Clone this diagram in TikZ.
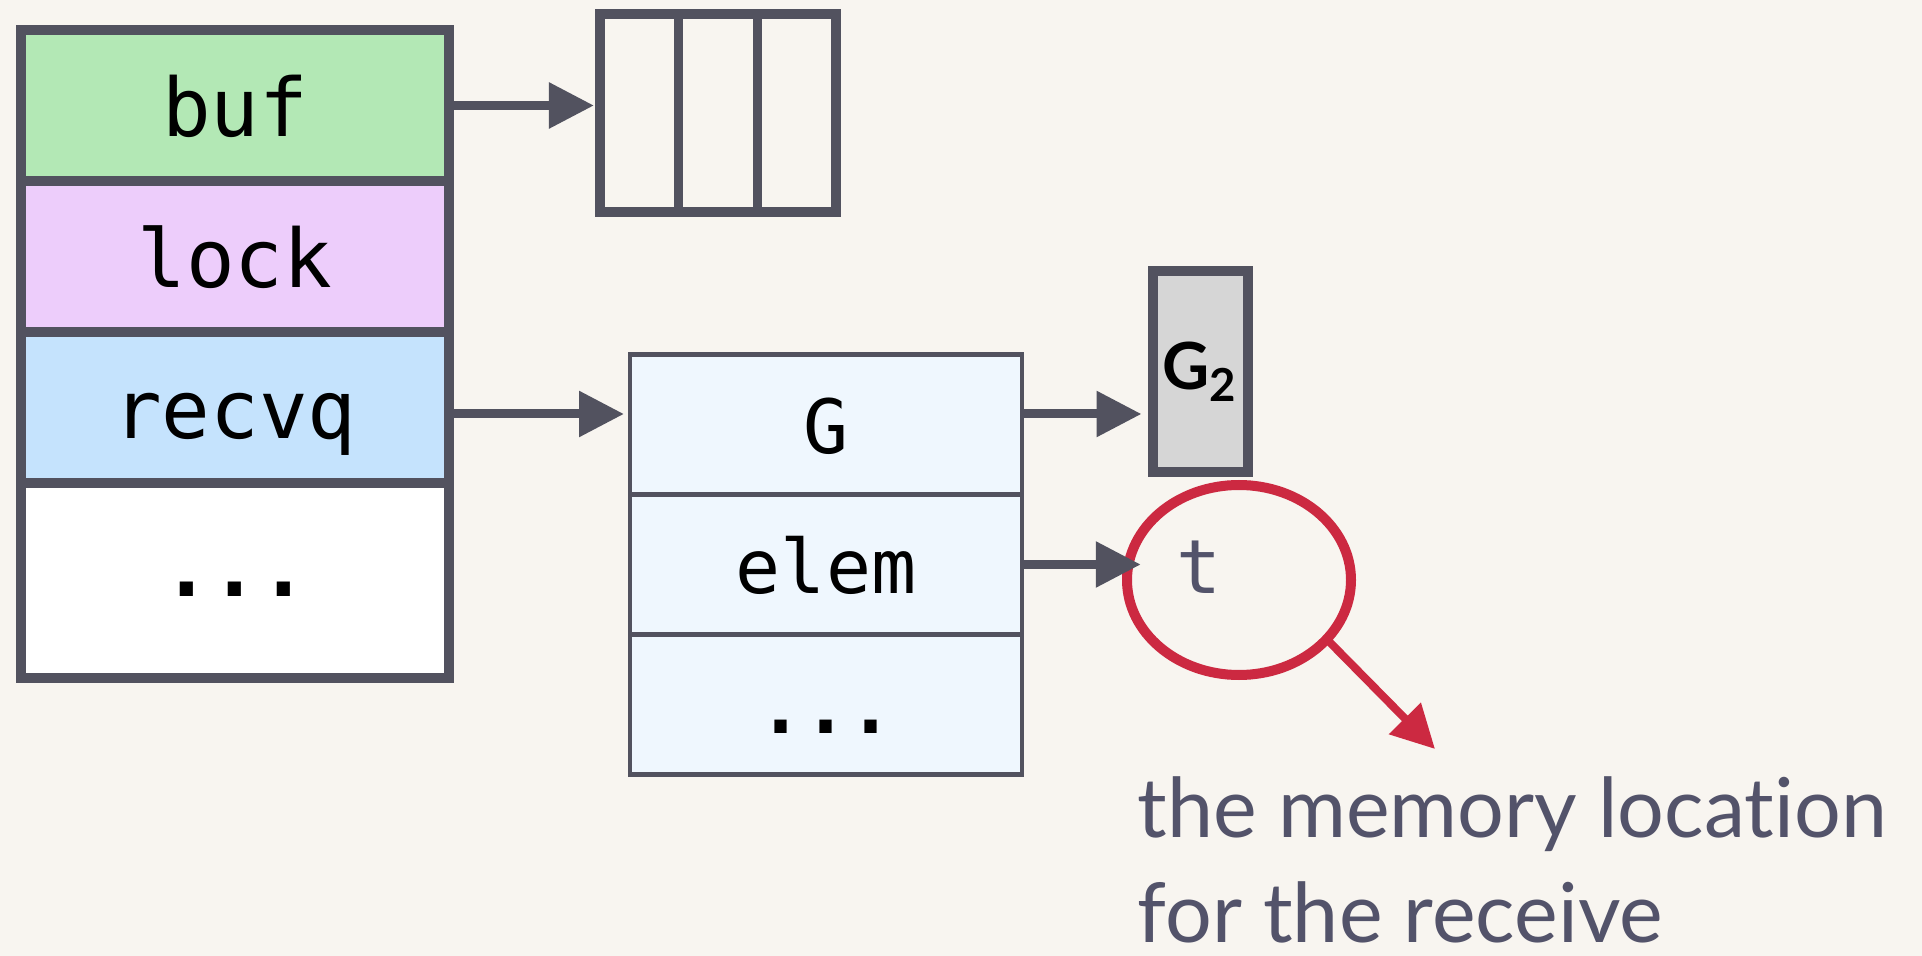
\documentclass[tikz,border=0pt]{standalone}
\usepackage{fontspec}
\setmainfont{Lato}[Ligatures=NoCommon]
\setmonofont{DejaVu Sans Mono}
\usetikzlibrary{arrows.meta,positioning,shapes.geometric}
\definecolor{FondoCrema}{HTML}{F8F5F0}
\definecolor{TrazoGris}{HTML}{52525F}
\definecolor{CampoVerde}{HTML}{B3E8B5}
\definecolor{CampoLila}{HTML}{EDCDFB}
\definecolor{CampoAzul}{HTML}{C5E3FD}
\definecolor{SudogAzul}{HTML}{EFF7FE}
\definecolor{GorGris}{HTML}{D6D6D6}
\definecolor{MarcaRoja}{HTML}{CC2941}
\definecolor{NotaGris}{HTML}{53536A}

\begin{document}
\begin{tikzpicture}[
  node distance=0pt,
  campo/.style={rectangle,draw=TrazoGris,line width=0.95mm,outer sep=0pt,
    minimum width=42.8mm,minimum height=15.1mm,text height=6.2mm,text depth=0pt,
    font=\fontsize{23}{28}\selectfont\ttfamily},
  celda/.style={rectangle,draw=TrazoGris,line width=0.95mm,outer sep=0pt,
    minimum width=7.87mm,minimum height=19.8mm},
  sudog/.style={rectangle,draw=TrazoGris,line width=0.45mm,fill=SudogAzul,outer sep=0pt,
    minimum width=39.2mm,minimum height=14mm,text height=5.8mm,text depth=0pt,
    font=\fontsize{21.3}{26}\selectfont\ttfamily},
  flecha/.style={-{Triangle[length=4.5mm,width=4.4mm]},line width=0.9mm,draw=TrazoGris,
    shorten >=0.6mm},
  marca/.style={-{Triangle[length=4.3mm,width=4.3mm]},line width=0.8mm,draw=MarcaRoja}
]
\path[use as bounding box,fill=FondoCrema] (0,0) rectangle (19.22,-9.56);
% canal
\node[campo,fill=CampoVerde] (buf) at (2.35,-1.055) {buf};
\node[campo,fill=CampoLila,below=of buf] (lock) {lock};
\node[campo,fill=CampoAzul,below=of lock] (recvq) {recvq};
\node[campo,fill=white,below=of recvq,minimum height=19.5mm,text height=3.2mm,
  font=\fontsize{23}{28}\selectfont\ttfamily\bfseries] (resto) {...};
% buffer circular
\node[celda] (c1) at (6.393,-1.13) {};
\node[celda,right=of c1] (c2) {};
\node[celda,right=of c2] (c3) {};
% sudog en espera
\node[sudog] (g) at (8.26,-4.245) {G};
\node[sudog,below=of g] (elem) {elem};
\node[sudog,below=of elem,font=\fontsize{21.3}{26}\selectfont\ttfamily\bfseries] (resto2) {...};
\node[rectangle,draw=TrazoGris,line width=1mm,fill=GorGris,inner sep=0pt,
  minimum width=9.5mm,minimum height=20.1mm,
  font=\fontsize{18.5}{22}\selectfont\bfseries] (g2) at (12.0,-3.715) {G\textsubscript{2}};
\node[ellipse,draw=MarcaRoja,line width=1mm,outer sep=0pt,
  minimum width=22.4mm,minimum height=19mm] (loc) at (12.39,-5.80) {};
\node[text=NotaGris,text height=5.8mm,text depth=0pt,inner xsep=2.9mm,
  font=\fontsize{21.3}{26}\selectfont\ttfamily] (t) at (11.99,-5.65) {t};
\foreach \a/\b/\d in {buf/c1/0,recvq/g/-0.65,g/g2/1.05,elem/t/0}
  \draw[flecha] ([yshift=\d mm]\a.east) -- ([yshift=\d mm]\a.east -| \b.west);
% nota
\coordinate (punta) at (14.35,-7.49);
\draw[marca] (loc.-34) -- (punta);
\node[anchor=north west,inner sep=0pt,align=left,text=NotaGris,
  font=\fontsize{23.5}{30}\selectfont] (nota) at (11.37,-7.76) {the memory location\\for the receive};
\end{tikzpicture}
\end{document}
